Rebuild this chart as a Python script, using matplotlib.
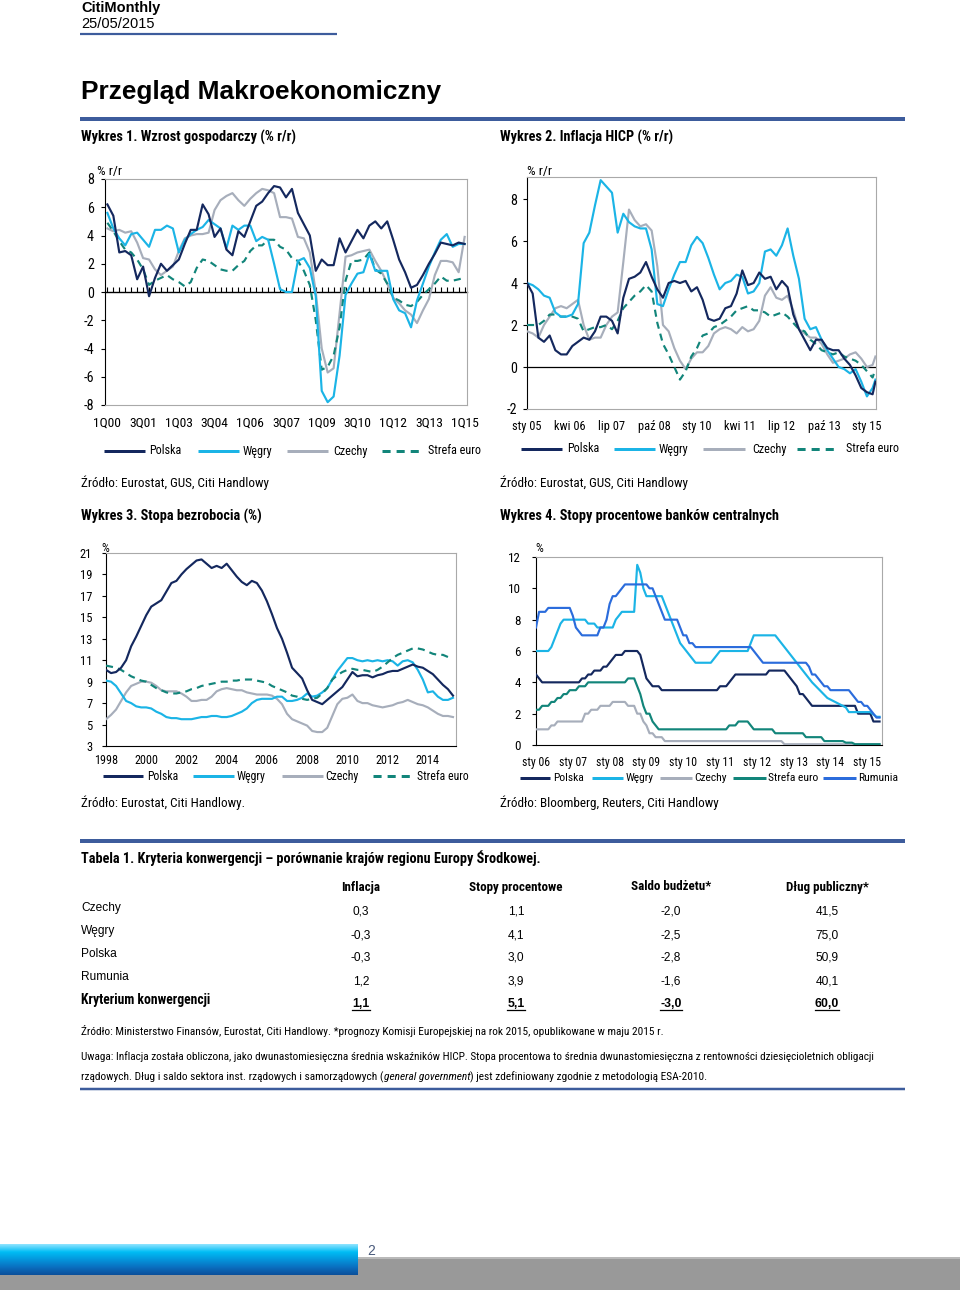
import numpy as np
import pandas as pd
import matplotlib
matplotlib.use('Agg')
import matplotlib.pyplot as plt
from matplotlib.lines import Line2D
from matplotlib.patches import Rectangle
from matplotlib.colors import LinearSegmentedColormap
from matplotlib import font_manager as fm

# ---------------- DATA ----------------
# Chart 1: GDP growth y/y, quarterly 1Q00..1Q15
gdp_quarters = [f"{q}Q{y:02d}" for y in range(0, 16) for q in (1, 2, 3, 4)][:61]
gdp_ticklabels = ['1Q00', '3Q01', '1Q03', '3Q04', '1Q06', '3Q07', '1Q09', '3Q10', '1Q12', '3Q13', '1Q15']
gdp_pl = [6.2, 5.4, 2.8, 2.9, 2.6, 0.9, 1.8, -0.3, 1.0, 2.0,
          1.5, 1.9, 2.3, 3.4, 4.4, 4.4, 6.2, 5.5, 3.9, 4.5,
          3.0, 2.6, 4.3, 3.9, 5.0, 6.1, 6.4, 7.0, 7.5, 7.4,
          6.7, 7.3, 5.6, 4.8, 4.0, 1.5, 2.3, 1.9, 1.9, 3.8,
          2.8, 3.6, 4.4, 3.8, 4.7, 5.0, 4.5, 5.0, 3.7, 2.3,
          1.4, 0.3, 0.5, 1.2, 2.0, 2.7, 3.5, 3.4, 3.3, 3.5, 3.4]
gdp_hu = [5.6, 4.5, 3.8, 3.3, 4.1, 4.2, 3.7, 3.2, 4.4, 4.4,
          4.7, 4.5, 2.8, 3.7, 4.1, 4.4, 4.6, 5.1, 4.8, 4.5,
          3.1, 4.7, 4.4, 4.7, 4.7, 3.6, 3.9, 3.7, 2.0, 0.2,
          0.0, 0.0, 2.2, 2.4, 1.7, -0.3, -7.0, -7.8, -7.4, -4.5,
          -0.2, 0.6, 1.3, 1.4, 2.7, 1.5, 1.5, 1.5, -0.5, -1.3,
          -1.5, -2.5, -0.6, 0.6, 1.8, 2.8, 3.7, 4.1, 3.2, 3.4, 3.4]
gdp_cz = [4.5, 4.3, 4.4, 4.2, 4.3, 3.5, 2.4, 2.3, 1.6, 1.2,
          1.5, 1.8, 2.9, 3.8, 4.0, 4.1, 4.1, 4.2, 5.8, 6.5,
          6.8, 7.0, 6.5, 6.1, 6.6, 7.0, 7.3, 7.2, 7.0, 5.3,
          5.3, 5.2, 3.9, 3.8, 2.8, 0.0, -4.0, -5.7, -5.4, -1.5,
          2.5, 2.6, 2.8, 2.9, 3.0, 2.2, 1.5, 0.6, -0.4, -0.8,
          -1.3, -1.6, -2.2, -1.3, -0.5, 1.2, 2.2, 2.2, 2.1, 1.4, 3.9]
gdp_ez = [4.9, 4.3, 3.6, 3.0, 2.8, 2.3, 1.6, 0.5, 0.8, 1.0,
          1.2, 0.9, 0.7, 0.4, 0.7, 1.7, 2.3, 2.2, 1.9, 1.6,
          1.5, 1.5, 1.9, 2.2, 2.9, 3.3, 3.3, 3.7, 3.7, 3.2,
          3.0, 2.4, 2.2, 1.5, 0.5, -2.0, -5.5, -5.3, -4.5, -2.5,
          0.8, 2.2, 2.2, 2.3, 2.8, 1.6, 1.3, 0.6, -0.4, -0.6,
          -0.9, -1.0, -0.7, -0.2, 0.2, 0.6, 1.1, 0.8, 0.8, 0.9, 1.0]

# Chart 2: HICP y/y, months since Jan 2005 (every second month)
hicp_months = list(range(0, 123, 2)) + [123]
hicp_tick_months = [0, 15, 30, 45, 60, 75, 90, 105, 120]
hicp_ticklabels = ['sty 05', 'kwi 06', 'lip 07', 'paź 08', 'sty 10', 'kwi 11', 'lip 12', 'paź 13', 'sty 15']
hicp_pl = [4.0, 3.5, 1.4, 1.2, 1.5, 0.8, 0.6, 0.6, 1.0, 1.2,
           1.4, 1.3, 1.7, 2.4, 2.4, 2.2, 1.6, 3.3, 4.2, 4.3,
           4.5, 5.0, 4.3, 3.7, 3.3, 4.0, 4.1, 4.0, 4.1, 3.6,
           3.8, 3.2, 2.3, 2.2, 2.3, 2.8, 2.9, 3.5, 4.6, 3.9,
           4.0, 4.5, 4.2, 4.3, 3.7, 4.1, 3.8, 2.5, 1.8, 1.3,
           0.8, 1.3, 1.3, 0.9, 0.8, 0.8, 0.4, 0.1, -0.4, -1.0,
           -1.2, -1.3, -0.7]
hicp_hu = [4.0, 3.9, 3.7, 3.4, 3.3, 2.6, 2.4, 2.4, 2.5, 3.0,
           5.9, 6.4, 7.7, 8.9, 8.6, 8.3, 6.4, 7.3, 6.9, 6.7,
           6.6, 6.6, 5.6, 3.0, 2.9, 3.7, 4.4, 5.0, 5.0, 5.8,
           6.2, 5.9, 5.2, 4.4, 3.7, 4.0, 4.1, 4.4, 4.3, 3.5,
           3.6, 4.0, 5.5, 5.6, 5.3, 5.8, 6.6, 5.3, 4.2, 2.3,
           1.8, 1.9, 1.3, 0.8, 0.4, 0.0, -0.1, -0.3, -0.1, -0.7,
           -1.4, -1.0, -0.6]
hicp_cz = [1.7, 1.6, 1.4, 2.0, 2.4, 2.8, 2.9, 2.8, 3.0, 3.2,
           2.0, 1.3, 1.4, 1.4, 2.0, 2.4, 2.6, 5.0, 7.5, 7.0,
           6.7, 6.8, 6.5, 4.8, 2.0, 1.7, 0.9, 0.3, -0.1, 0.4,
           0.7, 0.7, 1.0, 1.6, 1.8, 1.9, 1.8, 1.6, 1.9, 1.7,
           1.8, 2.2, 3.4, 3.8, 3.3, 3.2, 3.4, 2.7, 1.8, 1.6,
           1.4, 1.4, 1.1, 0.6, 0.2, 0.3, 0.4, 0.6, 0.7, 0.4,
           0.0, 0.1, 0.5]
hicp_ez = [2.0, 2.0, 2.0, 2.2, 2.5, 2.5, 2.4, 2.4, 2.4, 2.3,
           1.7, 1.8, 1.9, 1.9, 2.0, 1.8, 2.2, 2.8, 3.1, 3.4,
           3.6, 3.9, 3.6, 2.1, 1.1, 0.6, 0.0, -0.6, -0.2, 0.5,
           0.9, 1.5, 1.6, 1.9, 2.0, 2.2, 2.4, 2.7, 2.8, 2.9,
           2.7, 2.7, 2.6, 2.4, 2.5, 2.6, 2.4, 2.1, 1.8, 1.7,
           1.3, 1.1, 0.8, 0.7, 0.6, 0.7, 0.5, 0.4, 0.3, 0.1,
           -0.2, -0.5, -0.1]

# Chart 3: unemployment rate, quarterly from 1998
unemp_years = [1998 + 0.25 * i for i in range(70)]
unemp_ticks = list(range(1998, 2015, 2))
unemp_pl = [10.1, 9.8, 9.9, 10.3, 11.0, 12.3, 13.2, 14.2, 15.2, 16.0,
            16.3, 16.6, 17.4, 18.2, 18.4, 19.0, 19.5, 19.9, 20.3, 20.4,
            20.0, 19.6, 19.8, 19.6, 20.0, 19.4, 18.8, 18.3, 18.0, 18.4,
            18.2, 17.5, 16.5, 15.3, 14.0, 13.0, 11.7, 10.3, 9.8, 9.3,
            8.2, 7.3, 7.1, 6.9, 7.3, 7.7, 8.1, 8.5, 9.2, 9.9,
            9.5, 9.6, 9.6, 9.4, 9.6, 9.7, 9.9, 10.0, 10.0, 10.2,
            10.4, 10.6, 10.4, 10.3, 10.0, 9.7, 9.2, 8.7, 8.3, 7.7]
unemp_hu = [9.1, 9.0, 8.6, 7.9, 7.2, 7.0, 6.7, 6.6, 6.6, 6.5,
            6.2, 6.0, 5.7, 5.6, 5.6, 5.5, 5.5, 5.5, 5.6, 5.7,
            5.7, 5.8, 5.8, 5.7, 5.7, 5.8, 6.0, 6.2, 6.5, 7.0,
            7.3, 7.4, 7.4, 7.4, 7.6, 7.6, 7.2, 7.2, 7.3, 7.5,
            7.9, 7.6, 7.7, 8.0, 8.4, 9.2, 10.0, 10.6, 11.2, 11.2,
            11.0, 10.9, 11.0, 10.9, 11.0, 10.9, 11.0, 10.9, 10.5, 10.9,
            11.0, 10.8, 10.1, 9.2, 8.0, 8.1, 7.6, 7.3, 7.3, 7.5]
unemp_cz = [5.5, 5.9, 6.4, 7.2, 8.0, 8.6, 8.8, 9.0, 9.0, 8.9,
            8.6, 8.2, 8.1, 8.1, 8.1, 7.9, 7.6, 7.2, 7.2, 7.3,
            7.3, 7.6, 8.1, 8.3, 8.4, 8.3, 8.2, 8.2, 8.0, 7.9,
            7.8, 7.8, 7.8, 7.7, 7.4, 6.9, 6.0, 5.5, 5.3, 5.1,
            4.9, 4.4, 4.3, 4.3, 4.7, 5.8, 6.9, 7.4, 7.5, 7.8,
            7.2, 7.0, 7.0, 6.8, 6.7, 6.6, 6.7, 6.8, 7.0, 7.1,
            7.3, 7.1, 6.9, 6.8, 6.6, 6.3, 6.0, 5.8, 5.8, 5.7]
unemp_ez = [10.5, 10.4, 10.3, 10.1, 9.8, 9.5, 9.3, 9.1, 9.0, 8.7,
            8.4, 8.2, 8.0, 7.9, 7.9, 8.0, 8.1, 8.3, 8.4, 8.6,
            8.7, 8.8, 8.9, 9.0, 9.0, 9.1, 9.1, 9.2, 9.2, 9.2,
            9.1, 9.0, 8.9, 8.6, 8.4, 8.2, 8.0, 7.7, 7.6, 7.4,
            7.3, 7.4, 7.5, 7.9, 8.4, 9.2, 9.6, 9.9, 10.1, 10.2,
            10.1, 10.1, 10.0, 9.9, 10.1, 10.4, 10.8, 11.2, 11.5, 11.7,
            11.9, 12.1, 12.1, 12.0, 11.8, 11.6, 11.5, 11.5, 11.3, 11.2]

# Chart 4: central bank policy rates (dates of changes, new level)
cb_pl_dates = ['2006-01', '2006-02', '2006-03', '2007-04', '2007-06', '2007-08', '2007-11', '2008-01',
               '2008-02', '2008-03', '2008-06', '2008-11', '2008-12', '2009-01', '2009-02', '2009-03',
               '2009-06', '2011-01', '2011-04', '2011-05', '2011-06', '2012-05', '2012-11', '2012-12',
               '2013-01', '2013-02', '2013-03', '2013-05', '2013-06', '2013-07', '2014-10', '2015-03']
cb_pl_rates = [4.5, 4.25, 4.0, 4.25, 4.5, 4.75, 5.0, 5.25, 5.5, 5.75, 6.0, 5.75, 5.0, 4.25, 4.0, 3.75,
               3.5, 3.75, 4.0, 4.25, 4.5, 4.75, 4.5, 4.25, 4.0, 3.75, 3.25, 3.0, 2.75, 2.5, 2.0, 1.5]
cb_hu_dates = ['2006-01', '2006-06', '2006-07', '2006-08', '2006-09', '2006-10', '2007-06', '2007-09',
               '2008-03', '2008-04', '2008-05', '2008-10', '2008-11', '2008-12', '2009-01', '2009-07',
               '2009-08', '2009-09', '2009-10', '2009-11', '2009-12', '2010-01', '2010-02', '2010-03',
               '2010-04', '2010-05', '2010-11', '2010-12', '2011-01', '2011-11', '2011-12', '2012-08',
               '2012-09', '2012-10', '2012-11', '2012-12', '2013-01', '2013-02', '2013-03', '2013-04',
               '2013-05', '2013-06', '2013-07', '2013-08', '2013-09', '2013-10', '2013-11', '2013-12',
               '2014-01', '2014-02', '2014-03', '2014-04', '2014-05', '2014-06', '2014-07', '2015-03',
               '2015-04']
cb_hu_rates = [6.0, 6.25, 6.75, 7.25, 7.75, 8.0, 7.75, 7.5, 8.0, 8.25, 8.5, 11.5, 11.0, 10.0, 9.5, 9.0,
               8.5, 8.0, 7.5, 7.0, 6.5, 6.25, 6.0, 5.75, 5.5, 5.25, 5.5, 5.75, 6.0, 6.5, 7.0, 6.75,
               6.5, 6.25, 6.0, 5.75, 5.5, 5.25, 5.0, 4.75, 4.5, 4.25, 4.0, 3.8, 3.6, 3.4, 3.2, 3.0,
               2.9, 2.8, 2.7, 2.6, 2.5, 2.4, 2.1, 1.95, 1.8]
cb_cz_dates = ['2006-01', '2006-06', '2006-08', '2007-05', '2007-07', '2007-10', '2008-02', '2008-07',
               '2008-10', '2008-12', '2009-01', '2009-02', '2009-04', '2009-07', '2012-10']
cb_cz_rates = [1.0, 1.25, 1.5, 2.0, 2.25, 2.5, 2.75, 2.5, 2.0, 1.5, 1.25, 0.75, 0.5, 0.25, 0.05]
cb_ez_dates = ['2006-01', '2006-03', '2006-06', '2006-08', '2006-10', '2006-12', '2007-03', '2007-06',
               '2008-07', '2008-10', '2008-11', '2008-12', '2009-01', '2009-03', '2009-04', '2009-05',
               '2011-04', '2011-07', '2011-11', '2011-12', '2012-07', '2013-05', '2013-11', '2014-06',
               '2014-09']
cb_ez_rates = [2.25, 2.5, 2.75, 3.0, 3.25, 3.5, 3.75, 4.0, 4.25, 3.75, 3.25, 2.5, 2.0, 1.5, 1.25, 1.0,
               1.25, 1.5, 1.25, 1.0, 0.75, 0.5, 0.25, 0.15, 0.05]
cb_ro_dates = ['2006-01', '2006-02', '2006-05', '2007-01', '2007-02', '2007-03', '2007-04', '2007-10',
               '2007-12', '2008-01', '2008-02', '2008-04', '2008-05', '2008-06', '2009-02', '2009-04',
               '2009-05', '2009-06', '2009-07', '2009-12', '2010-01', '2010-03', '2010-05', '2011-12',
               '2012-01', '2012-02', '2012-03', '2013-06', '2013-07', '2013-09', '2013-10', '2013-11',
               '2014-01', '2014-08', '2014-09', '2014-10', '2014-12', '2015-02', '2015-03', '2015-04']
cb_ro_rates = [7.5, 8.5, 8.75, 8.25, 7.5, 7.25, 7.0, 7.5, 8.0, 9.0, 9.5, 9.75, 10.0, 10.25, 10.0, 9.5,
               9.0, 8.5, 8.0, 7.5, 7.0, 6.5, 6.25, 6.0, 5.75, 5.5, 5.25, 5.0, 4.5, 4.25, 4.0, 3.75,
               3.5, 3.25, 3.0, 2.75, 2.5, 2.25, 2.0, 1.75]
cb_ticklabels = ['sty 06', 'sty 07', 'sty 08', 'sty 09', 'sty 10', 'sty 11', 'sty 12', 'sty 13', 'sty 14', 'sty 15']

# Table
tab_countries = ['Czechy', 'Węgry', 'Polska', 'Rumunia']
tab_columns = ['Inflacja', 'Stopy procentowe', 'Saldo budżetu*', 'Dług publiczny*']
tab_inflacja = [0.3, -0.3, -0.3, 1.2]
tab_stopy = [1.1, 4.1, 3.0, 3.9]
tab_saldo = [-2.0, -2.5, -2.8, -1.6]
tab_dlug = [41.5, 75.0, 50.9, 40.1]
tab_criterion_label = 'Kryterium konwergencji'
tab_criterion = [1.1, 5.1, -3.0, 60.0]


# ---------------- FONTS ----------------
def has_font(name):
    try:
        fm.findfont(fm.FontProperties(family=name), fallback_to_default=False)
        return True
    except Exception:
        return False


REG = ['Liberation Sans', 'DejaVu Sans']
NARROW_NAME = None
for cand in ['Liberation Sans Narrow', 'Arial Narrow', 'Roboto Condensed', 'Open Sans Condensed',
             'Noto Sans Condensed']:
    if has_font(cand):
        NARROW_NAME = cand
        break
if NARROW_NAME:
    NAR = [NARROW_NAME, 'Liberation Sans', 'DejaVu Sans']
    K = 1.13          # narrow fonts need a larger size for the same width
    KB = 1.06         # extra factor for bold headings
else:
    NAR = REG
    K = 1.0
    KB = 1.0

plt.rcParams['axes.unicode_minus'] = False
plt.rcParams['font.family'] = NAR

C_PL = '#14285e'
C_HU = '#1bb4e6'
C_CZ = '#a7aebb'
C_EZ = '#12857a'
C_RO = '#2b6cdc'
C_RULE = '#3d5c9c'
GRID = '#a9a9a9'
DASH = (0, (3.3, 2.4))
LW = 1.55

W, H = 960, 1290
fig = plt.figure(figsize=(W / 100, H / 100), dpi=100)


def X(px):
    return px / W


def Y(py):
    return 1 - py / H


def txt(x, y, s, size=9, weight='normal', family=None, ha='left', va='center', color='black', **kw):
    if family is None:
        family = NAR
        size = size * K
    return fig.text(X(x), Y(y), s, fontsize=size, fontweight=weight, family=family,
                    ha=ha, va=va, color=color, **kw)


def hline(x0, x1, y, px, color, ls='-'):
    fig.add_artist(Line2D([X(x0), X(x1)], [Y(y), Y(y)], lw=px * 0.72, color=color, ls=ls,
                          transform=fig.transFigure, solid_capstyle='butt', dash_capstyle='butt'))


def new_ax(l, t, r, b):
    return fig.add_axes([X(l), Y(b), (r - l) / W, (b - t) / H])


def style_ax(ax, bottom_black=False, ysize=9, xsize=9, ypad=4, xpad=6):
    for s in ['top', 'right']:
        ax.spines[s].set_color(GRID)
        ax.spines[s].set_linewidth(0.8)
    ax.spines['left'].set_color('black')
    ax.spines['left'].set_linewidth(0.8)
    ax.spines['bottom'].set_color('black' if bottom_black else GRID)
    ax.spines['bottom'].set_linewidth(0.8)
    ax.tick_params(axis='y', direction='out', length=3, width=0.8, labelsize=ysize * K, pad=ypad)
    ax.tick_params(axis='x', length=0, labelsize=xsize * K, pad=xpad)
    ax.set_facecolor('none')


def legend(items, y, size=7.7):
    for (x0, x1, tx, label, color, dashed) in items:
        hline(x0, x1, y, 3, color, ls=(0, (2.7, 2.0)) if dashed else '-')
        txt(tx, y, label, size=size)


HEAD = 8.6 * KB
SRC = 8.4

# ---------------- HEADER ----------------
txt(81, 8, 'CitiMonthly', size=10.5, weight='bold', family=REG)
txt(81, 23.5, '25/05/2015', size=10.5, family=REG)
hline(80, 337, 34.3, 2.2, C_RULE)
txt(81, 92, 'Przegląd Makroekonomiczny', size=18.9, weight='bold', family=REG)
hline(80, 905, 118.7, 4, C_RULE)

txt(81, 137, 'Wykres 1. Wzrost gospodarczy (% r/r)', size=HEAD, weight='bold')
txt(500, 137, 'Wykres 2. Inflacja HICP (% r/r)', size=HEAD, weight='bold')

# ---------------- CHART 1 ----------------
ax1 = new_ax(105, 179, 467, 405)
xq = np.arange(len(gdp_quarters))
ax1.plot(xq, gdp_cz, color=C_CZ, lw=LW, zorder=3)
ax1.plot(xq, gdp_ez, color=C_EZ, lw=LW, ls=DASH, zorder=4)
ax1.plot(xq, gdp_hu, color=C_HU, lw=LW, zorder=5)
ax1.plot(xq, gdp_pl, color=C_PL, lw=LW, zorder=6)
ax1.set_xlim(-0.4, len(gdp_quarters) - 0.6)
ax1.set_ylim(-8, 8)
ax1.set_yticks(np.arange(-8, 9, 2))
ax1.set_xticks([gdp_quarters.index(l) for l in gdp_ticklabels], gdp_ticklabels)
style_ax(ax1, ypad=5, xpad=8, xsize=8.6)
sec = ax1.secondary_xaxis(0.5)
sec.set_xticks(xq, [''] * len(xq))
sec.tick_params(direction='out', length=3.5, width=0.8, color='black',
                labeltop=False, labelbottom=False)
for s in sec.spines.values():
    s.set_color('black')
    s.set_linewidth(1.0)
txt(97, 171, '% r/r', size=8.6)
legend([(104, 145, 149, 'Polska', C_PL, False),
        (198, 239, 243, 'Węgry', C_HU, False),
        (287, 328, 333, 'Czechy', C_CZ, False),
        (382, 423, 428, 'Strefa euro', C_EZ, True)], 451)

# ---------------- CHART 2 ----------------
ax2 = new_ax(527, 177, 876, 409)
ax2.axhline(0, color='black', lw=0.9, zorder=2)
ax2.plot(hicp_months, hicp_cz, color=C_CZ, lw=LW, zorder=3)
ax2.plot(hicp_months, hicp_ez, color=C_EZ, lw=LW, ls=DASH, zorder=4)
ax2.plot(hicp_months, hicp_hu, color=C_HU, lw=LW, zorder=5)
ax2.plot(hicp_months, hicp_pl, color=C_PL, lw=LW, zorder=6)
ax2.set_xlim(0, 123.2)
ax2.set_ylim(-2, 9.05)
ax2.set_yticks(np.arange(-2, 9, 2))
ax2.set_xticks(hicp_tick_months, hicp_ticklabels)
style_ax(ax2, ypad=4, xpad=8, xsize=7.9)
txt(527, 171, '% r/r', size=8.6)
legend([(521, 562, 567, 'Polska', C_PL, False),
        (614, 655, 659, 'Węgry', C_HU, False),
        (703, 745, 752, 'Czechy', C_CZ, False),
        (797, 838, 846, 'Strefa euro', C_EZ, True)], 449)

txt(81, 483, 'Źródło: Eurostat, GUS, Citi Handlowy', size=SRC)
txt(500, 483, 'Źródło: Eurostat, GUS, Citi Handlowy', size=SRC)
txt(81, 516, 'Wykres 3. Stopa bezrobocia (%)', size=HEAD, weight='bold')
txt(500, 516, 'Wykres 4. Stopy procentowe banków centralnych', size=HEAD, weight='bold')

# ---------------- CHART 3 ----------------
ax3 = new_ax(106, 553, 456, 746)
ax3.plot(unemp_years, unemp_cz, color=C_CZ, lw=LW, zorder=3)
ax3.plot(unemp_years, unemp_hu, color=C_HU, lw=LW, zorder=4)
ax3.plot(unemp_years, unemp_ez, color=C_EZ, lw=LW, ls=DASH, zorder=5)
ax3.plot(unemp_years, unemp_pl, color=C_PL, lw=LW, zorder=6)
ax3.set_xlim(1998, 2015.4)
ax3.set_ylim(3, 21)
ax3.set_yticks(np.arange(3, 22, 2))
ax3.set_xticks(unemp_ticks, [str(t) for t in unemp_ticks])
style_ax(ax3, bottom_black=True, ysize=8, xsize=7.7, ypad=7, xpad=6)
txt(101, 548, '%', size=8)
legend([(103, 143, 147, 'Polska', C_PL, False),
        (193, 234, 237, 'Węgry', C_HU, False),
        (282, 323, 325, 'Czechy', C_CZ, False),
        (373, 413, 417, 'Strefa euro', C_EZ, True)], 776, size=7.5)

# ---------------- CHART 4 ----------------
months4 = pd.period_range('2006-01', '2015-05', freq='M')
x4 = np.asarray(months4.year + (months4.month - 1) / 12.0, dtype=float)


def cb_series(dates, rates):
    s = pd.Series(rates, index=pd.PeriodIndex(dates, freq='M'))
    return s.reindex(months4).ffill().to_numpy()


ax4 = new_ax(536, 557, 882, 745)
ax4.plot(x4, cb_series(cb_cz_dates, cb_cz_rates), color=C_CZ, lw=LW, zorder=3)
ax4.plot(x4, cb_series(cb_ez_dates, cb_ez_rates), color=C_EZ, lw=LW, zorder=4)
ax4.plot(x4, cb_series(cb_pl_dates, cb_pl_rates), color=C_PL, lw=LW, zorder=5)
ax4.plot(x4, cb_series(cb_hu_dates, cb_hu_rates), color=C_HU, lw=LW, zorder=6)
ax4.plot(x4, cb_series(cb_ro_dates, cb_ro_rates), color=C_RO, lw=LW, zorder=7)
ax4.set_xlim(2006, 2015.4)
ax4.set_ylim(0, 12)
ax4.set_yticks(np.arange(0, 13, 2))
ax4.set_xticks(np.arange(2006, 2016), cb_ticklabels)
style_ax(ax4, bottom_black=True, ysize=8.3, xsize=7.5, ypad=8, xpad=8)
txt(535, 548, '%', size=8)
legend([(520, 550, 553, 'Polska', C_PL, False),
        (592, 623, 626, 'Węgry', C_HU, False),
        (660, 692, 694, 'Czechy', C_CZ, False),
        (733, 766, 768, 'Strefa euro', C_EZ, False),
        (823, 856, 858, 'Rumunia', C_RO, False)], 778, size=7.3)

txt(81, 803, 'Źródło: Eurostat, Citi Handlowy.', size=SRC)
txt(500, 803, 'Źródło: Bloomberg, Reuters, Citi Handlowy', size=SRC)

# ---------------- TABLE ----------------
hline(80, 905, 841, 4, C_RULE)
txt(81, 858, 'Tabela 1. Kryteria konwergencji – porównanie krajów regionu Europy Środkowej.',
    size=HEAD, weight='bold')
col_x = [361, 516, 671, 827]
for cx, name in zip(col_x, tab_columns):
    txt(cx, 887, name, size=8.3, weight='bold', ha='center')


def fmt(v):
    return f"{v:.1f}".replace('.', ',')


row_y = [908, 931, 954, 977]
for i, c in enumerate(tab_countries):
    txt(81, row_y[i], c, size=8.6, family=REG)
    for cx, col in zip(col_x, [tab_inflacja, tab_stopy, tab_saldo, tab_dlug]):
        txt(cx, row_y[i] + 4, fmt(col[i]), size=8.6, family=REG, ha='center')
txt(81, 1000, tab_criterion_label, size=8.2 * KB, weight='bold')
crit_texts = []
for cx, v in zip(col_x, tab_criterion):
    crit_texts.append(txt(cx, 1004, fmt(v), size=8.8, weight='bold', family=REG, ha='center'))

NOTE = 7.25
txt(81, 1031, 'Źródło: Ministerstwo Finansów, Eurostat, Citi Handlowy. *prognozy Komisji Europejskiej na rok 2015, '
    'opublikowane w maju 2015 r.', size=NOTE)
txt(81, 1057, 'Uwaga: Inflacja została obliczona, jako dwunastomiesięczna średnia wskaźników HICP. Stopa procentowa '
    'to średnia dwunastomiesięczna z rentowności dziesięcioletnich obligacji', size=NOTE * 0.985)
renderer = fig.canvas.get_renderer()
p1 = txt(81, 1077, 'rządowych. Dług i saldo sektora inst. rządowych i samorządowych (', size=NOTE)
x_end = p1.get_window_extent(renderer).x1
p2 = fig.text(x_end / W, Y(1077), 'general government', fontsize=NOTE * K, style='italic', family=NAR,
              va='center')
x_end2 = p2.get_window_extent(renderer).x1
fig.text(x_end2 / W, Y(1077), ') jest zdefiniowany zgodnie z metodologią ESA-2010.', fontsize=NOTE * K,
         family=NAR, va='center')
hline(80, 905, 1088.5, 2.5, C_RULE)

for t in crit_texts:
    bb = t.get_window_extent(renderer)
    fig.add_artist(Line2D([bb.x0 / W, bb.x1 / W], [(bb.y0 + 0.5) / H] * 2, lw=0.9, color='black',
                          transform=fig.transFigure))

# ---------------- FOOTER ----------------
fig.add_artist(Rectangle((0, 0), 1, (1290 - 1257) / H, transform=fig.transFigure,
                         facecolor='#999999', edgecolor='none', zorder=1))
hline(358, 960, 1257.5, 1.5, '#c4c4c4')
axf = fig.add_axes([0, Y(1275), X(358), (1275 - 1244) / H])
axf.set_zorder(3)
cmap = LinearSegmentedColormap.from_list('bar', ['#8fe4ff', '#00bdf5', '#0496dc', '#0a6fc0', '#0b4f9a'])
axf.imshow(np.linspace(0, 1, 64).reshape(-1, 1), aspect='auto', cmap=cmap, extent=[0, 1, 0, 1])
axf.axis('off')
txt(367, 1251, '2', size=10, family=REG, color='#4a5b7c')

fig.savefig('out.png', dpi=100)
